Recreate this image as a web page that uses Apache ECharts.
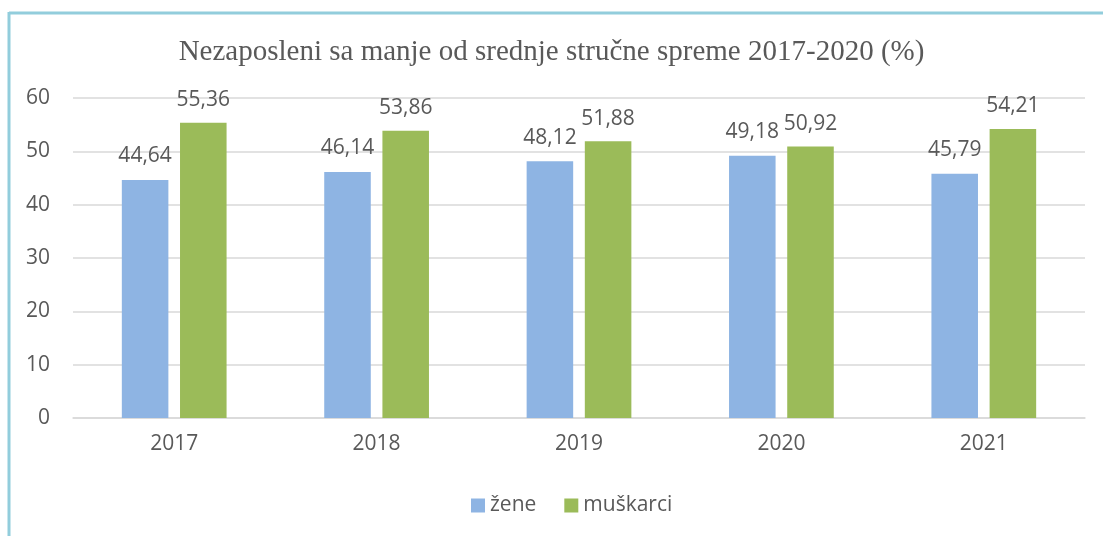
<!DOCTYPE html>
<html>
<head>
    <meta charset="UTF-8">
    <title>Nezaposleni</title>
    <script type="text/javascript" src="https://cdn.jsdelivr.net/npm/echarts@6/dist/echarts.min.js"></script>
    <style>
        html, body { margin: 0; padding: 0; background: #fff; }
        #main { width: 1103px; height: 536px; }
    </style>
</head>
<body>
<div id="main"></div>
<script type="text/javascript">
    // podaci
    var godine = ['2017', '2018', '2019', '2020', '2021'];
    var zene = [44.64, 46.14, 48.12, 49.18, 45.79];
    var muskarci = [55.36, 53.86, 51.88, 50.92, 54.21];
    var yTicks = [0, 10, 20, 30, 40, 50, 60];

    var myChart = echarts.init(document.getElementById('main'));

    var labelFmt = function (p) {
        return p.value.toFixed(2).replace('.', ',');
    };
    var txt = '#595959';
    var font = 'Open Sans';
    var fs = 21;

    var option = {
        backgroundColor: '#ffffff',
        animation: false,
        title: {
            text: 'Nezaposleni sa manje od srednje stručne spreme 2017-2020 (%)',
            left: 'center',
            top: 33,
            textStyle: {
                fontFamily: 'Liberation Serif',
                fontWeight: 'normal',
                fontSize: 29,
                color: txt
            }
        },
        legend: {
            data: ['žene', 'muškarci'],
            bottom: 15,
            left: 466,
            itemWidth: 14,
            itemHeight: 14,
            itemGap: 28,
            icon: 'rect',
            textStyle: { fontFamily: font, fontSize: fs, color: txt }
        },
        grid: {
            left: 73,
            right: 18,
            top: 98,
            bottom: 118
        },
        xAxis: {
            type: 'category',
            data: godine,
            axisLine: { lineStyle: { color: '#D9D9D9', width: 1.5 } },
            axisTick: { show: false },
            axisLabel: { fontFamily: font, fontSize: fs, color: txt, margin: 16 }
        },
        yAxis: {
            type: 'value',
            min: yTicks[0],
            max: yTicks[yTicks.length - 1],
            interval: 10,
            axisLine: { show: false },
            axisTick: { show: false },
            splitLine: { lineStyle: { color: '#D9D9D9', width: 1.5 } },
            axisLabel: { fontFamily: font, fontSize: fs, color: txt, margin: 23 }
        },
        series: [
            {
                name: 'žene',
                type: 'bar',
                data: zene,
                barWidth: '23%',
                barGap: '25%',
                itemStyle: { color: '#8EB4E3' },
                label: {
                    show: true,
                    position: 'top',
                    distance: 13,
                    formatter: labelFmt,
                    fontFamily: font,
                    fontSize: fs,
                    color: txt
                }
            },
            {
                name: 'muškarci',
                type: 'bar',
                data: muskarci,
                barWidth: '23%',
                barGap: '25%',
                itemStyle: { color: '#9BBB59' },
                label: {
                    show: true,
                    position: 'top',
                    distance: 12,
                    formatter: labelFmt,
                    fontFamily: font,
                    fontSize: fs,
                    color: txt
                }
            }
        ],
        graphic: [
            {
                type: 'line',
                shape: { x1: 9, y1: 13, x2: 1103, y2: 13 },
                style: { stroke: '#92CDDC', lineWidth: 3 }
            },
            {
                type: 'line',
                shape: { x1: 9, y1: 12, x2: 9, y2: 536 },
                style: { stroke: '#92CDDC', lineWidth: 3 }
            }
        ]
    };

    myChart.setOption(option);
</script>
</body>
</html>
